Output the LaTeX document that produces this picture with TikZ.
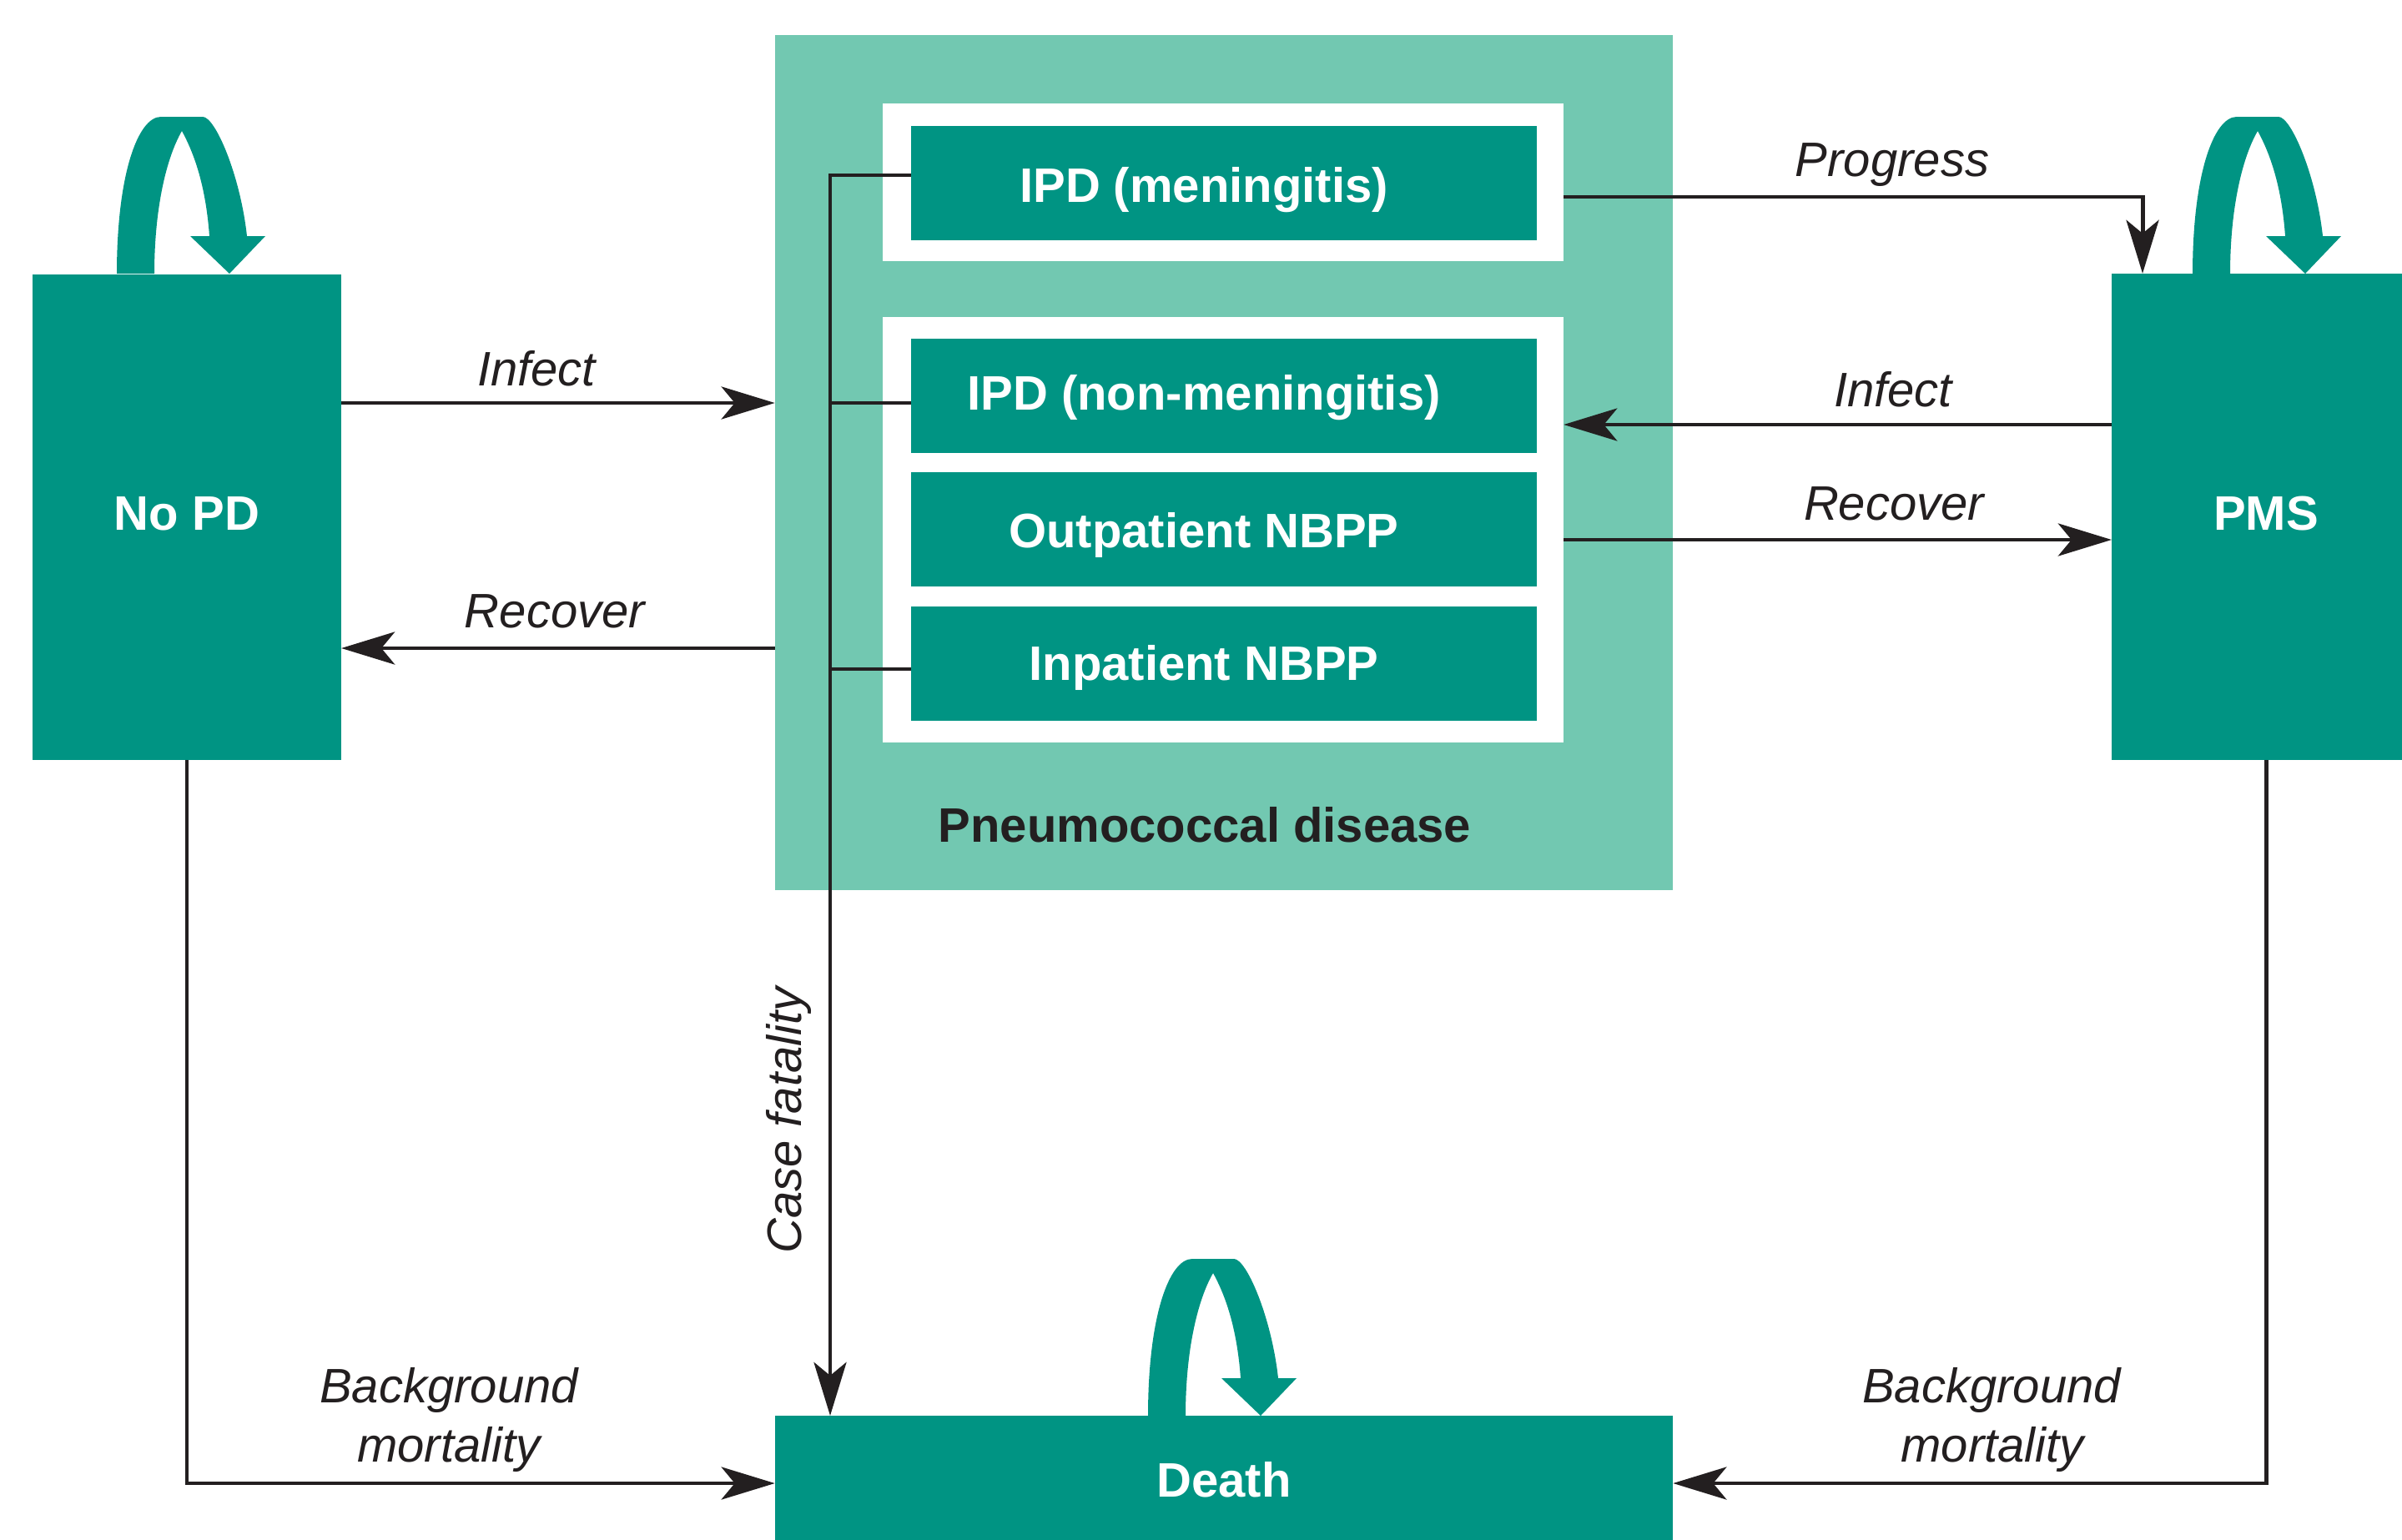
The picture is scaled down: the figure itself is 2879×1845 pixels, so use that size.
\documentclass[tikz,border=0pt]{standalone}
\usepackage{fontspec}
\setmainfont{Liberation Sans}
\usetikzlibrary{arrows.meta}
\definecolor{tealD}{RGB}{0,148,131}
\definecolor{tealL}{RGB}{114,200,177}
\definecolor{linec}{RGB}{35,31,32}
\begin{document}
\begin{tikzpicture}[x=0.01cm, y=-0.01cm,
  every node/.style={inner sep=0pt, outer sep=0pt},
  txtfont/.style={font=\bfseries\fontsize{16.5}{19.8}\selectfont, text height=11.8pt, text depth=0pt},
  bigbox/.style={fill=tealD, text=white, txtfont},
  inbox/.style={fill=tealD, minimum width=7.50cm, minimum height=1.37cm},
  boxtxt/.style={text=white, txtfont},
  lbl/.style={font=\itshape\fontsize{16.5}{19.8}\selectfont, text=linec, anchor=base},
  conn/.style={draw=linec, line width=1.4pt},
  flow/.style={conn, -{Stealth[length=6.4mm, width=3.9mm, inset=1.6mm]}},
  selfloop/.pic={\fill[tealD] (0,0) .. controls (0,-118) and (25,-188) .. (53,-188) -- (103,-188)
     .. controls (118,-188) and (148,-118) .. (156,-45) -- (178,-45) -- (135,0) -- (88,-45) -- (111,-45)
     .. controls (107,-100) and (95,-140) .. (78,-171) .. controls (60,-140) and (45,-80) .. (45,0) -- cycle;}
]
\clip (0,0) rectangle (2879,1845);
\fill[white] (0,0) rectangle (2879,1845);

% central disease block
\node[fill=tealL, minimum width=10.76cm, minimum height=10.25cm] (pd) at (1467,554.5) {};
\node[fill=white, minimum width=8.16cm, minimum height=1.89cm] (wb1) at (1466,218.5) {};
\node[fill=white, minimum width=8.16cm, minimum height=5.10cm] (wb2) at (1466,635) {};
\node[inbox] (ipdm) at (1467,219.5) {};
\node[inbox] (ipdn) at (1467,474.5) {};
\node[inbox] (outp) at (1467,634.5) {};
\node[inbox] (inp) at (1467,795.5) {};
\node[boxtxt] (ipdm-t) at (1443,222) {IPD (meningitis)};
\node[boxtxt] (ipdn-t) at (1443,471) {IPD (non-meningitis)};
\node[boxtxt] (outp-t) at (1443,636) {Outpatient NBPP};
\node[boxtxt] (inp-t) at (1443,795) {Inpatient NBPP};
\node[boxtxt, text=linec] (pd-t) at (1444,989) {Pneumococcal disease};

% state boxes
\node[bigbox, text depth=2.8pt, minimum width=3.70cm, minimum height=5.82cm] (nopd) at (224,620) {No PD};
\node[bigbox, text depth=2.8pt, minimum width=3.70cm, minimum height=5.83cm] (pms) at (2716,619.5) {PMS};
\node[bigbox, minimum width=10.76cm, minimum height=1.53cm] (death) at (1467,1773.5) {Death};

% self loops
\pic at (140,328) {selfloop};
\pic at (2628,328) {selfloop};
\pic at (1376,1697) {selfloop};

% helper coordinates
\coordinate (yA) at (0,483);
\coordinate (yB) at (0,777);
\coordinate (yC) at (0,236);
\coordinate (yD) at (0,509);
\coordinate (yE) at (0,647);
\coordinate (yF) at (0,210);
\coordinate (yG) at (0,802);
\coordinate (yH) at (0,1778);
\coordinate (xP) at (2568,0);
\coordinate (xCF) at (995,0);

% connectors
\draw[flow] (nopd.east |- yA) -- (pd.west |- yA);
\draw[flow] (pd.west |- yB) -- (nopd.east |- yB);
\draw[flow] (wb1.east |- yC) -| (xP |- pms.north);
\draw[flow] (pms.west |- yD) -- (wb2.east |- yD);
\draw[flow] (wb2.east |- yE) -- (pms.west |- yE);
\draw[flow] (ipdm.west |- yF) -- (xCF |- yF) -- (xCF |- death.north);
\draw[conn] (ipdn.west |- yA) -- (xCF |- yA);
\draw[conn] (inp.west |- yG) -- (xCF |- yG);
\draw[flow] (nopd.south) |- (death.west |- yH);
\draw[flow] (pms.south) |- (death.east |- yH);

% labels
\node[lbl] (l-inf1) at (643,462) {Infect};
\node[lbl] (l-rec1) at (665,752) {Recover};
\node[lbl] (l-prog) at (2268,211) {Progress};
\node[lbl] (l-inf2) at (2269,487) {Infect};
\node[lbl] (l-rec2) at (2270,623) {Recover};
\node[lbl] (l-bg1a) at (538,1681) {Background};
\node[lbl] (l-bg1b) at (538,1752) {mortality};
\node[lbl] (l-bg2a) at (2387,1681) {Background};
\node[lbl] (l-bg2b) at (2388,1752) {mortality};
\node[lbl, rotate=90] (l-cf) at (960,1343) {Case fatality};
\end{tikzpicture}
\end{document}
